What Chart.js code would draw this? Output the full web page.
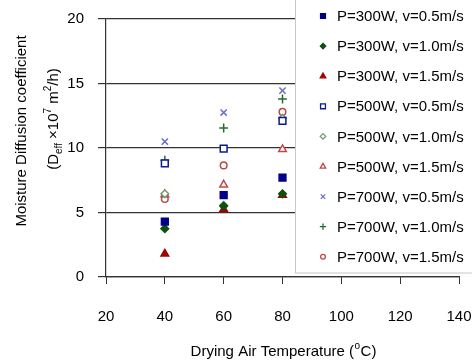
<!DOCTYPE html>
<html><head><meta charset="utf-8">
<script src="https://cdn.jsdelivr.net/npm/chart.js@4/dist/chart.umd.min.js"></script>
<style>html,body{margin:0;padding:0;background:#fff}#wrap{width:472px;height:363px;position:relative}</style>
</head><body><div id="wrap"><canvas id="c" width="472" height="363"></canvas></div>
<script>
const temperatures = [40, 60, 80];
const seriesLabels = ["P=300W, v=0.5m/s","P=300W, v=1.0m/s","P=300W, v=1.5m/s","P=500W, v=0.5m/s","P=500W, v=1.0m/s","P=500W, v=1.5m/s","P=700W, v=0.5m/s","P=700W, v=1.0m/s","P=700W, v=1.5m/s"];
const p300v05 = [4.3, 6.35, 7.7];
const p300v10 = [3.75, 5.5, 6.45];
const p300v15 = [1.8, 5.25, 6.35];
const p500v05 = [8.8, 9.95, 12.1];
const p500v10 = [6.45, 5.55, 12.3];
const p500v15 = [6.4, 7.15, 9.9];
const p700v05 = [10.5, 12.75, 14.45];
const p700v10 = [9.05, 11.55, 13.8];
const p700v15 = [6.05, 8.65, 12.8];
const xTicks = [20, 40, 60, 80, 100, 120, 140];
const yTicks = [0, 5, 10, 15, 20];

const allValues = [p300v05,p300v10,p300v15,p500v05,p500v10,p500v15,p700v05,p700v10,p700v15];
const styles = [
  {pointStyle:'rect', bg:'#00008b', border:'#00008b', r:4.8},
  {pointStyle:'rectRot', bg:'#0f4f0f', border:'#0f4f0f', r:3.8},
  {pointStyle:'triangle', bg:'#a00000', border:'#a00000', r:4.4},
  {pointStyle:'rect', bg:'#ffffff', border:'#0a1a90', r:4.8},
  {pointStyle:'rectRot', bg:'#ffffff', border:'#6f9a6f', r:3.8},
  {pointStyle:'triangle', bg:'#ffffff', border:'#c04848', r:4.4},
  {pointStyle:'crossRot', bg:'#6a6ad0', border:'#6a6ad0', r:4.4},
  {pointStyle:'cross', bg:'#2a6a2a', border:'#2a6a2a', r:4.4},
  {pointStyle:'circle', bg:'#ffffff', border:'#c04848', r:3.3}
];
const datasets = allValues.map((vals,i)=>({
  label: seriesLabels[i],
  data: temperatures.map((t,j)=>({x:t, y:vals[j]})),
  pointStyle: styles[i].pointStyle,
  backgroundColor: styles[i].bg,
  borderColor: styles[i].border,
  pointRadius: styles[i].r,
  pointHoverRadius: styles[i].r,
  borderWidth: 1.5,
  showLine: false
}));

const FONT = '"Liberation Sans", Arial, sans-serif';

const customDraw = {
  id: 'customDraw',
  afterDraw(chart) {
    const ctx = chart.ctx;
    ctx.save();
    ctx.fillStyle = '#000';
    ctx.textBaseline = 'alphabetic';
    const xt1 = 'Drying Air Temperature (';
    const xt2 = 'o';
    const xt3 = 'C)';
    ctx.font = '15px ' + FONT;
    const w1 = ctx.measureText(xt1).width;
    ctx.font = '10px ' + FONT;
    const w2 = ctx.measureText(xt2).width;
    ctx.font = '15px ' + FONT;
    const w3 = ctx.measureText(xt3).width;
    let x0 = 283 - (w1 + w2 + w3)/2;
    const yb = 356;
    ctx.fillText(xt1, x0, yb);
    ctx.font = '10px ' + FONT;
    ctx.fillText(xt2, x0 + w1 + 0.5, yb - 7);
    ctx.font = '15px ' + FONT;
    ctx.fillText(xt3, x0 + w1 + w2 + 1, yb);

    ctx.save();
    ctx.translate(26, 131);
    ctx.rotate(-Math.PI/2);
    ctx.textAlign = 'center';
    ctx.font = '15px ' + FONT;
    ctx.fillText('Moisture Diffusion coefficient', 0, 0);
    ctx.restore();

    ctx.save();
    ctx.translate(58, 119);
    ctx.rotate(-Math.PI/2);
    ctx.textAlign = 'left';
    const parts = [
      {t:'(D', f:15, dy:0},
      {t:'eff', f:10, dy:4},
      {t:' \u00D710', f:15, dy:0},
      {t:'7', f:10, dy:-7},
      {t:' m', f:15, dy:0},
      {t:'2', f:10, dy:-7},
      {t:'/h)', f:15, dy:0}
    ];
    let tw = 0;
    parts.forEach(p=>{ctx.font = p.f+'px '+FONT; p.w = ctx.measureText(p.t).width; tw += p.w;});
    let px = -tw/2;
    parts.forEach(p=>{ctx.font = p.f+'px '+FONT; ctx.fillText(p.t, px, p.dy); px += p.w;});
    ctx.restore();

    ctx.fillStyle = '#ffffff';
    ctx.fillRect(295, -2, 190, 275);
    ctx.strokeStyle = '#c8c8c8';
    ctx.lineWidth = 1;
    ctx.strokeRect(295.5, -2, 190, 275);
    const helpers = Chart.helpers;
    chart.data.datasets.forEach((ds, i) => {
      const cy = 16 + i * 30.1;
      ctx.fillStyle = ds.backgroundColor;
      ctx.strokeStyle = ds.borderColor;
      ctx.lineWidth = 1.3;
      helpers.drawPoint(ctx, {pointStyle: ds.pointStyle, radius: ds.pointRadius * 0.72, borderWidth: 1.3, rotation: 0}, 323, cy);
      ctx.fillStyle = '#000';
      ctx.font = '15px ' + FONT;
      ctx.textAlign = 'left';
      ctx.textBaseline = 'middle';
      ctx.fillText(ds.label, 337, cy + 1);
    });
    ctx.restore();
  }
};

new Chart(document.getElementById('c'), {
  type: 'scatter',
  data: { datasets },
  options: {
    responsive: false,
    animation: false,
    devicePixelRatio: 1,
    layout: { padding: { top: 19, right: 13, left: 0, bottom: 0 } },
    plugins: { legend: { display: false }, tooltip: { enabled: false } },
    scales: {
      x: {
        type: 'linear', min: 20, max: 140,
        afterBuildTicks: s => { s.ticks = xTicks.map(v => ({value: v})); },
        afterFit: s => { s.height = 86; s.paddingLeft = 0; s.paddingRight = 0; },
        ticks: { color: '#000', font: { size: 15, family: FONT }, padding: 24, maxRotation: 0 },
        grid: { drawOnChartArea: false, color: '#333', tickLength: 7, tickWidth: 1 },
        border: { color: '#333', width: 1.2 }
      },
      y: {
        min: 0, max: 20,
        afterBuildTicks: s => { s.ticks = yTicks.map(v => ({value: v})); },
        afterFit: s => { s.width = 106; s.paddingTop = 0; s.paddingBottom = 0; },
        ticks: { color: '#000', font: { size: 15, family: FONT }, padding: 14 },
        grid: { color: '#333', tickLength: 8, lineWidth: 1.2 },
        border: { color: '#333', width: 1.2 }
      }
    }
  },
  plugins: [customDraw]
});
</script>
</body></html>
